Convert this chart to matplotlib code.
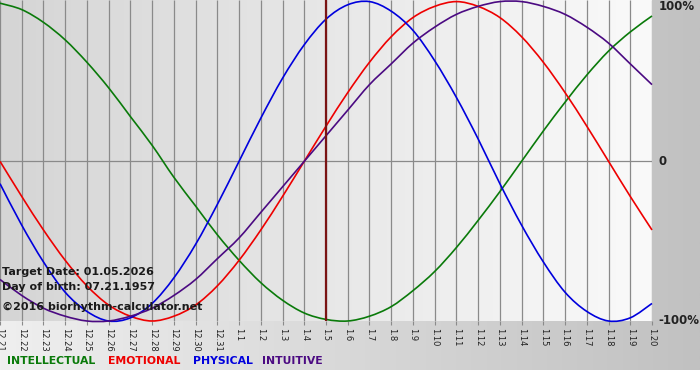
import numpy as np
import matplotlib.pyplot as plt
from matplotlib.colors import LinearSegmentedColormap
from matplotlib.path import Path
from matplotlib.patches import PathPatch

# Days shown on the chart
dates = ['12.21', '12.22', '12.23', '12.24', '12.25', '12.26', '12.27', '12.28',
         '12.29', '12.30', '12.31', '1.1', '1.2', '1.3', '1.4', '1.5', '1.6',
         '1.7', '1.8', '1.9', '1.10', '1.11', '1.12', '1.13', '1.14', '1.15',
         '1.16', '1.17', '1.18', '1.19', '1.20']
target = '1.5'

# Cycle values (-1 .. 1) read per day
intellectual = [0.99, 0.95, 0.87, 0.76, 0.62, 0.46, 0.28, 0.10, -0.10, -0.28,
                -0.46, -0.62, -0.76, -0.87, -0.95, -0.99, -1.00, -0.97, -0.91,
                -0.81, -0.69, -0.54, -0.37, -0.19, 0.00, 0.19, 0.37, 0.54, 0.69,
                0.81, 0.91]
emotional = [0.00, -0.22, -0.43, -0.62, -0.78, -0.90, -0.97, -1.00, -0.97, -0.90,
             -0.78, -0.62, -0.43, -0.22, 0.00, 0.22, 0.43, 0.62, 0.78, 0.90,
             0.97, 1.00, 0.97, 0.90, 0.78, 0.62, 0.43, 0.22, 0.00, -0.22, -0.43]
physical = [-0.14, -0.40, -0.63, -0.82, -0.94, -1.00, -0.98, -0.89, -0.73, -0.52,
            -0.27, 0.00, 0.27, 0.52, 0.73, 0.89, 0.98, 1.00, 0.94, 0.82, 0.63,
            0.40, 0.14, -0.14, -0.40, -0.63, -0.82, -0.94, -1.00, -0.98, -0.89]
intuitive = [-0.74, -0.84, -0.92, -0.97, -1.00, -1.00, -0.97, -0.92, -0.84, -0.74,
             -0.61, -0.48, -0.32, -0.16, 0.00, 0.16, 0.32, 0.48, 0.61, 0.74,
             0.84, 0.92, 0.97, 1.00, 1.00, 0.97, 0.92, 0.84, 0.74, 0.61, 0.48]

series = [('INTELLECTUAL', intellectual, '#0a7a0a'),
          ('EMOTIONAL', emotional, '#ee0000'),
          ('PHYSICAL', physical, '#0000dd'),
          ('INTUITIVE', intuitive, '#4b0a82')]


def smooth_path(xs, ys):
    # catmull-rom through the daily points, drawn as cubic bezier segments
    pts = np.column_stack([xs, ys]).astype(float)
    ext = np.vstack([pts[0], pts, pts[-1]])
    verts = [pts[0]]
    codes = [Path.MOVETO]
    for i in range(1, len(ext) - 2):
        p0, p1, p2, p3 = ext[i - 1], ext[i], ext[i + 1], ext[i + 2]
        verts += [p1 + (p2 - p0) / 6, p2 - (p3 - p1) / 6, p2]
        codes += [Path.CURVE4] * 3
    return Path(verts, codes)


W, H = 700, 380
fig = plt.figure(figsize=(W / 100, H / 100), dpi=100, facecolor='white')

# grey gradient behind everything
grad = np.linspace(0, 1, 256).reshape(1, -1)
bg = fig.add_axes([0, 10 / H, 1, 370 / H])
bg.axis('off')
bg.imshow(grad, aspect='auto', extent=(0, 1, 0, 1),
          cmap=LinearSegmentedColormap.from_list('bg', ['#efefef', '#c1c1c1']))

ax = fig.add_axes([0, 1 - 321 / H, 652 / W, 321 / H])
x = np.arange(len(dates))
ymin, ymax = -1.0, 1.01
ax.imshow(grad, aspect='auto', extent=(x[0], x[-1], ymin, ymax), zorder=0,
          cmap=LinearSegmentedColormap.from_list('pa', ['#d5d5d5', '#fafafa']))
ax.set_xlim(x[0], x[-1])
ax.set_ylim(ymin, ymax)

ax.vlines(x, ymin, ymax, color='#8a8a8a', lw=0.9, zorder=1)
ax.axhline(0, color='#8a8a8a', lw=0.9, zorder=1)

for name, vals, col in series:
    ax.add_patch(PathPatch(smooth_path(x, vals), facecolor='none',
                           edgecolor=col, lw=1.2, zorder=3, clip_on=False))

ax.axvline(dates.index(target), color='#7a1414', lw=1.6, zorder=4)

for s in ax.spines.values():
    s.set_visible(False)
ax.set_xticks(x)
ax.set_xticklabels(dates, rotation=-90, fontsize=6, color='#222222')
ax.tick_params(axis='x', length=3, color='#8a8a8a', pad=2)
ax.set_yticks([])

# right side percent labels
yt = ax.get_yaxis_transform()
ax.text(1.01, ymax, '100%', transform=yt, va='top', ha='left',
        fontsize=8.5, fontweight='bold', color='#222222')
ax.text(1.01, 0, '0', transform=yt, va='center', ha='left',
        fontsize=8.5, fontweight='bold', color='#222222')
ax.text(1.01, ymin, '-100%', transform=yt, va='center', ha='left',
        fontsize=8.5, fontweight='bold', color='#222222')

# info text
info = ['Target Date: 01.05.2026', 'Day of birth: 07.21.1957',
        '\u00a92016 biorhythm-calculator.net']
for txt, py in zip(info, [272, 287, 307]):
    fig.text(2 / W, 1 - py / H, txt, va='center', ha='left', fontsize=8,
             fontweight='bold', color='#1a1a1a', zorder=5)

# coloured legend words
for (name, vals, col), px in zip(series, [7, 108, 193, 262]):
    fig.text(px / W, 1 - 361 / H, name, va='center', ha='left', fontsize=7.8,
             fontweight='bold', color=col)

fig.savefig('out.png', dpi=100)
